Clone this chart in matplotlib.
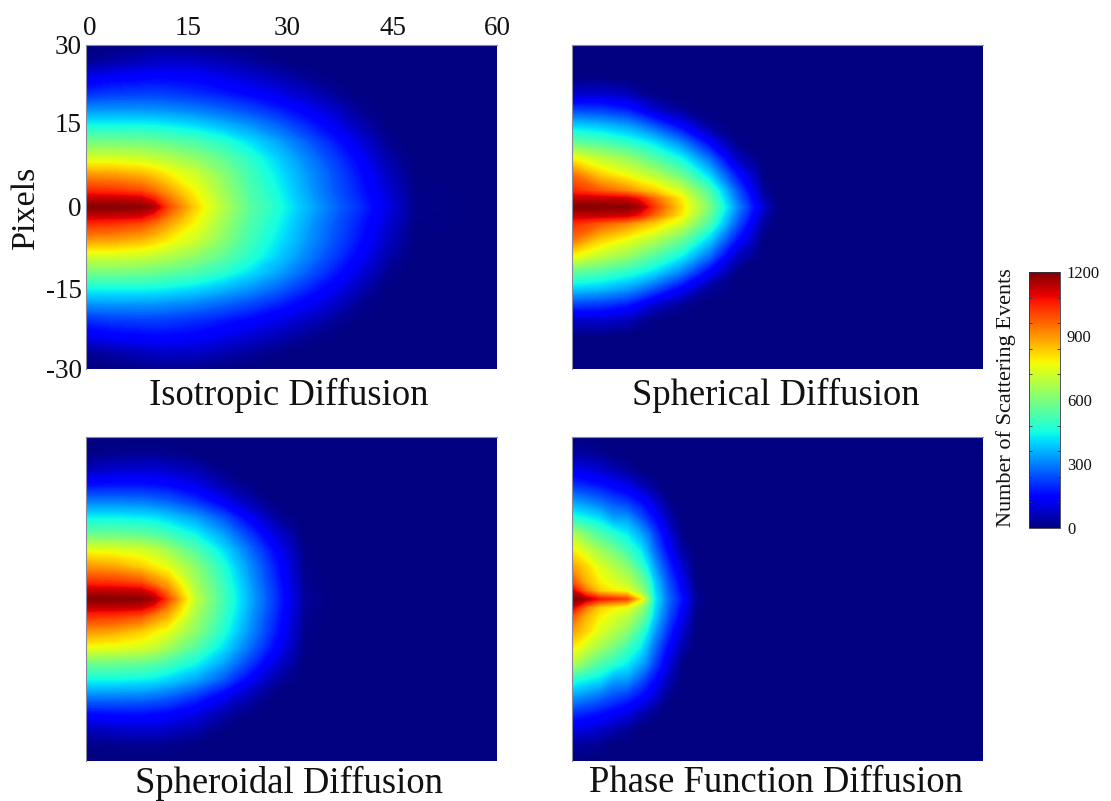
import numpy as np
import matplotlib
matplotlib.use("Agg")
import matplotlib.pyplot as plt
from matplotlib.cm import ScalarMappable
from matplotlib.colors import Normalize
from matplotlib.transforms import ScaledTranslation

plt.rcParams['font.family'] = ['Liberation Serif', 'DejaVu Serif']
plt.rcParams['axes.unicode_minus'] = False

W, H = 1111, 801

# distance from the axis (upper half, pictures are mirrored about 0)
rows = [0, 1.5, 3, 6, 9, 12, 15, 18, 21, 24, 27, 30]

x_iso = [0, 4, 8, 10, 12, 16, 20, 24, 28, 32, 36, 40, 44, 48, 60]
isotropic = [
    [1190, 1190, 1180, 1150, 1000, 820, 680, 550, 465, 370, 280, 200, 110, 15, 0],
    [1130, 1130, 1120, 1050, 950, 795, 665, 540, 455, 360, 270, 190, 100, 12, 0],
    [1040, 1030, 1000, 950, 890, 770, 650, 530, 445, 350, 260, 180, 90, 10, 0],
    [900, 890, 860, 830, 790, 720, 620, 510, 425, 335, 250, 165, 70, 5, 0],
    [730, 730, 720, 700, 680, 630, 560, 480, 395, 310, 225, 140, 45, 0, 0],
    [590, 590, 585, 575, 560, 530, 480, 415, 345, 265, 185, 100, 20, 0, 0],
    [450, 450, 450, 445, 435, 410, 370, 325, 270, 200, 130, 55, 5, 0, 0],
    [320, 325, 325, 320, 315, 295, 265, 230, 185, 135, 80, 20, 0, 0, 0],
    [200, 215, 220, 220, 215, 200, 175, 145, 110, 70, 30, 5, 0, 0, 0],
    [110, 135, 145, 150, 150, 140, 115, 85, 55, 25, 5, 0, 0, 0, 0],
    [20, 40, 60, 70, 75, 70, 50, 30, 10, 0, 0, 0, 0, 0, 0],
    [0, 5, 10, 15, 15, 10, 5, 0, 0, 0, 0, 0, 0, 0, 0],
]

x_sph = [0, 4, 8, 10, 12, 16, 20, 24, 28, 30, 60]
spherical = [
    [1190, 1190, 1185, 1150, 1020, 810, 600, 320, 80, 0, 0],
    [1130, 1130, 1120, 1060, 960, 790, 570, 290, 55, 0, 0],
    [1040, 980, 920, 870, 830, 720, 530, 260, 30, 0, 0],
    [950, 830, 760, 720, 680, 570, 400, 170, 5, 0, 0],
    [780, 700, 640, 590, 540, 440, 280, 70, 0, 0, 0],
    [560, 530, 480, 450, 410, 300, 140, 10, 0, 0, 0],
    [400, 380, 340, 300, 250, 140, 30, 0, 0, 0, 0],
    [225, 215, 180, 135, 80, 25, 0, 0, 0, 0, 0],
    [70, 80, 60, 25, 10, 0, 0, 0, 0, 0, 0],
    [5, 5, 0, 0, 0, 0, 0, 0, 0, 0, 0],
    [0, 0, 0, 0, 0, 0, 0, 0, 0, 0, 0],
    [0, 0, 0, 0, 0, 0, 0, 0, 0, 0, 0],
]

x_spo = [0, 4, 8, 10, 12, 16, 20, 24, 28, 32, 36, 60]
spheroidal = [
    [1190, 1190, 1185, 1150, 1000, 700, 520, 350, 195, 30, 0, 0],
    [1130, 1130, 1120, 1050, 930, 680, 510, 345, 190, 25, 0, 0],
    [1040, 1030, 1000, 930, 870, 660, 500, 335, 180, 20, 0, 0],
    [900, 880, 830, 790, 750, 620, 470, 315, 165, 12, 0, 0],
    [760, 750, 730, 700, 650, 540, 415, 275, 135, 5, 0, 0],
    [570, 570, 560, 540, 510, 440, 340, 210, 85, 0, 0, 0],
    [440, 440, 430, 420, 395, 340, 250, 130, 30, 0, 0, 0],
    [300, 300, 295, 280, 265, 210, 130, 50, 0, 0, 0, 0],
    [165, 170, 170, 165, 155, 115, 50, 10, 0, 0, 0, 0],
    [60, 80, 85, 85, 75, 50, 10, 0, 0, 0, 0, 0],
    [10, 15, 20, 20, 15, 5, 0, 0, 0, 0, 0, 0],
    [0, 0, 0, 0, 0, 0, 0, 0, 0, 0, 0, 0],
]

x_pha = [0, 2, 4, 6, 8, 10, 11, 12, 14, 16, 18, 20, 60]
phase = [
    [1200, 1150, 1060, 1030, 1000, 800, 640, 440, 280, 170, 30, 0, 0],
    [1120, 950, 830, 790, 760, 650, 560, 420, 265, 150, 20, 0, 0],
    [1000, 870, 790, 740, 700, 600, 530, 400, 250, 130, 10, 0, 0],
    [890, 820, 740, 680, 620, 500, 430, 340, 205, 85, 5, 0, 0],
    [790, 720, 650, 590, 510, 430, 360, 280, 150, 45, 0, 0, 0],
    [680, 600, 530, 480, 430, 350, 300, 230, 110, 10, 0, 0, 0],
    [470, 440, 410, 340, 330, 250, 200, 160, 60, 0, 0, 0, 0],
    [340, 310, 280, 240, 210, 160, 130, 90, 20, 0, 0, 0, 0],
    [210, 190, 170, 140, 110, 60, 40, 20, 0, 0, 0, 0, 0],
    [110, 100, 80, 50, 30, 5, 0, 0, 0, 0, 0, 0, 0],
    [30, 30, 20, 5, 0, 0, 0, 0, 0, 0, 0, 0, 0],
    [5, 5, 0, 0, 0, 0, 0, 0, 0, 0, 0, 0, 0],
]

titles = ["Isotropic Diffusion", "Spherical Diffusion",
          "Spheroidal Diffusion", "Phase Function Diffusion"]
x_ticks = [0, 15, 30, 45, 60]
y_ticks = [-30, -15, 0, 15, 30]
cbar_ticks = [0, 300, 600, 900, 1200]

fig = plt.figure(figsize=(W / 100, H / 100), dpi=100, facecolor="white")


def add_axes_px(left, top, right, bottom):
    return fig.add_axes([left / W, 1 - bottom / H, (right - left) / W, (bottom - top) / H])


def nudge(label, dx, dy):
    # the tick labels in the picture are a bit off their ticks
    label.set_transform(label.get_transform() + ScaledTranslation(dx / 100, dy / 100, fig.dpi_scale_trans))


boxes = [(86, 45, 497, 369), (572, 45, 983, 369),
         (86, 437, 497, 761), (572, 437, 983, 761)]
title_pos = [(289, 395), (776, 395), (289, 783), (776, 783)]
panels = [(x_iso, isotropic), (x_sph, spherical), (x_spo, spheroidal), (x_pha, phase)]
levels = np.linspace(0, 1200, 241)
y_half = np.array(rows)
y_full = np.concatenate([-y_half[::-1], y_half[1:]])

for i, (xs, half) in enumerate(panels):
    ax = add_axes_px(*boxes[i])
    half = np.array(half)
    z = np.vstack([half[::-1], half[1:]])
    ax.contourf(xs, y_full, z, levels=levels, cmap="jet", vmin=0, vmax=1200,
                extend="both", antialiased=False)
    ax.set_xlim(0, 60)
    ax.set_ylim(-30, 30)
    ax.set_xticks([])
    ax.set_yticks([])
    for name, sp in ax.spines.items():
        sp.set_visible(name in ("left", "top"))
        sp.set_color("#8a8a9a")
        sp.set_linewidth(0.8)
    fig.text(title_pos[i][0] / W, 1 - title_pos[i][1] / H, titles[i],
             fontsize=26.4, ha="center", va="center", color="#111111")
    if i == 0:
        ax.xaxis.tick_top()
        ax.set_xticks(x_ticks)
        ax.set_yticks(y_ticks)
        ax.tick_params(length=0, labelsize=19.5, pad=3, labelcolor="#111111")
        for lab, dx in zip(ax.get_xticklabels(), [4, -1, -4, -1, 0]):
            nudge(lab, dx, 0)
        for lab, dy in zip(ax.get_yticklabels(), [0, 0, 0, 4, 0]):
            nudge(lab, 0, dy)
        fig.text(26 / W, 1 - 207 / H, "Pixels", fontsize=24.5, rotation=90,
                 ha="center", va="center", color="#111111")

cax = add_axes_px(1029, 272, 1060, 528)
cb = fig.colorbar(ScalarMappable(Normalize(0, 1200), "jet"), cax=cax)
cb.set_ticks(cbar_ticks)
cb.ax.tick_params(length=0, labelsize=12, pad=5, labelcolor="#111111")
cb.outline.set_edgecolor("#333344")
cb.outline.set_linewidth(0.6)
cb.ax.yaxis.set_ticks(np.arange(0, 1201, 120), minor=True)
cb.ax.tick_params(which="minor", length=2, width=0.6, direction="in",
                  left=True, right=True, color="#333344")
fig.text(1006 / W, 1 - 398 / H, "Number of Scattering Events", fontsize=16,
         rotation=90, ha="center", va="center", color="#111111")

fig.savefig("out.png", dpi=100)
